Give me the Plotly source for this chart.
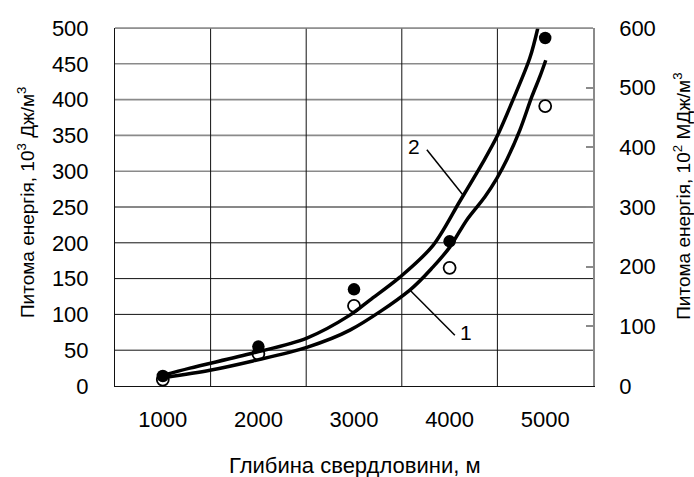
import plotly.graph_objects as go

# ---- data ----
DEPTH = [1000, 2000, 3000, 4000, 5000]
E_FILLED = [14, 55, 135, 202, 486]
E_OPEN = [9, 45, 112, 165, 391]

CURVE2_DEPTH = [1002, 1284, 1943, 2507, 2957, 3166, 3480, 3825, 4107, 4347, 4494, 4661, 4839, 4923]
CURVE2_E = [15, 25, 46, 67, 99, 120, 152, 196, 258, 312, 348, 399, 458, 500]

CURVE1_DEPTH = [1023, 1493, 1943, 2507, 2957, 3584, 3825, 4002, 4180, 4368, 4494, 4598, 4734, 4860, 4944, 5006]
CURVE1_E = [12, 22, 35, 54, 78, 134, 166, 194, 232, 264, 290, 316, 357, 404, 432, 455]

Y_LEFT_TICKS = [0, 50, 100, 150, 200, 250, 300, 350, 400, 450, 500]
Y_RIGHT_TICKS = [0, 100, 200, 300, 400, 500, 600]
X_GRID = [1500, 2500, 3500, 4500]

FONT = "Liberation Sans, Arial, sans-serif"

fig = go.Figure()

fig.add_trace(go.Scatter(x=DEPTH, y=E_OPEN, mode="markers",
                         marker=dict(size=12, color="white", line=dict(color="black", width=1.8)),
                         showlegend=False))
fig.add_trace(go.Scatter(x=CURVE2_DEPTH, y=CURVE2_E, mode="lines",
                         line=dict(color="black", width=3.5, shape="spline", smoothing=0.9),
                         showlegend=False))
fig.add_trace(go.Scatter(x=CURVE1_DEPTH, y=CURVE1_E, mode="lines",
                         line=dict(color="black", width=3.5, shape="spline", smoothing=0.9),
                         showlegend=False))
fig.add_trace(go.Scatter(x=DEPTH, y=E_FILLED, mode="markers",
                         marker=dict(size=12.5, color="black"),
                         showlegend=False))
# empty trace to activate right axis
fig.add_trace(go.Scatter(x=[], y=[], yaxis="y2", showlegend=False))

shapes = []
for v in Y_LEFT_TICKS[1:]:
    col = "#111111" if v <= 250 else "#8a8a8a"
    w = 1 if v <= 250 else 1.6
    shapes.append(dict(type="line", xref="paper", yref="y", x0=0, x1=1, y0=v, y1=v,
                       line=dict(color=col, width=w), layer="below"))
for xv in X_GRID:
    shapes.append(dict(type="line", xref="x", yref="paper", x0=xv, x1=xv, y0=0, y1=1,
                       line=dict(color="#111111", width=1), layer="below"))
# leader lines
shapes.append(dict(type="line", xref="x", yref="y", x0=3762, y0=330, x1=4138, y1=267,
                   line=dict(color="black", width=1.5)))
shapes.append(dict(type="line", xref="x", yref="y", x0=3584, y0=134, x1=4055, y1=71,
                   line=dict(color="black", width=1.5)))
# top border
shapes.append(dict(type="line", xref="paper", yref="paper", x0=0, x1=1, y0=1, y1=1,
                   line=dict(color="#8a8a8a", width=1.6)))

annotations = [
    dict(x=3626, y=335, xref="x", yref="y", text="2", showarrow=False,
         font=dict(size=21, color="black", family=FONT)),
    dict(x=4170, y=75, xref="x", yref="y", text="1", showarrow=False,
         font=dict(size=21, color="black", family=FONT)),
    dict(x=0.502, y=-0.223, xref="paper", yref="paper", text="Глибина свердловини, м",
         showarrow=False, xanchor="center", yanchor="middle",
         font=dict(size=22, color="black", family=FONT)),
    dict(x=-0.186, y=0.514, xref="paper", yref="paper",
         text="Питома енергія, 10<sup>3</sup> Дж/м<sup>3</sup>", textangle=-90,
         showarrow=False, xanchor="center", yanchor="middle",
         font=dict(size=19, color="black", family=FONT)),
    dict(x=1.186, y=0.531, xref="paper", yref="paper",
         text="Питома енергія, 10<sup>2</sup> МДж/м<sup>3</sup>", textangle=-90,
         showarrow=False, xanchor="center", yanchor="middle",
         font=dict(size=19, color="black", family=FONT)),
]

fig.update_layout(
    width=694, height=477, autosize=False,
    margin=dict(l=115, r=101, t=28, b=91),
    paper_bgcolor="white", plot_bgcolor="white",
    font=dict(family=FONT, size=22, color="black"),
    shapes=shapes, annotations=annotations,
    xaxis=dict(range=[500, 5500], tickmode="array", tickvals=DEPTH,
               showgrid=False, zeroline=False, showline=True, linecolor="#111111",
               linewidth=1, ticks="", ticklabelstandoff=14,
               tickfont=dict(size=22)),
    yaxis=dict(range=[0, 500], tickmode="array", tickvals=Y_LEFT_TICKS,
               showgrid=False, zeroline=False, showline=True, linecolor="#111111",
               linewidth=1, ticks="", ticklabelstandoff=21,
               tickfont=dict(size=22)),
    yaxis2=dict(range=[0, 600], tickmode="array", tickvals=Y_RIGHT_TICKS,
                overlaying="y", side="right", showgrid=False, zeroline=False,
                showline=True, linecolor="#8a8a8a", linewidth=1.5,
                ticks="inside", ticklen=7, tickcolor="#8a8a8a", tickwidth=1.5,
                ticklabelstandoff=20, tickfont=dict(size=22)),
)

fig.write_html("out.html")
